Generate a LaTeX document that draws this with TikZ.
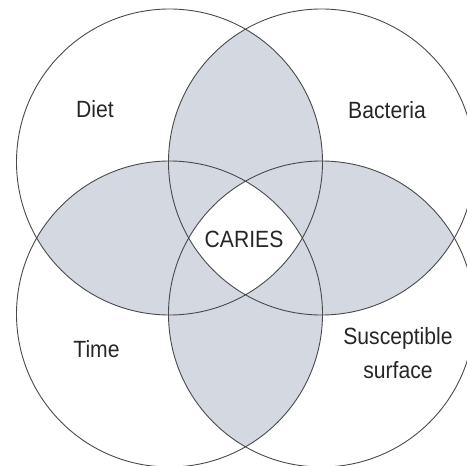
\documentclass[tikz,border=0pt]{standalone}
\usepackage{fontspec}
\usepackage{tikz}
\newfontfamily\labelfont[FakeStretch=0.9]{Liberation Sans}
\definecolor{lensgray}{HTML}{D3D8E1}
\definecolor{rimgray}{HTML}{4A4A4A}

\begin{document}
\begin{tikzpicture}[x=1pt,y=-1pt,
  rim/.style={rimgray,line width=0.9pt},
  factor/.style={font=\labelfont\fontsize{23.5}{34}\selectfont,text=black!85,align=center,inner sep=0pt}]
  \useasboundingbox (0,0) rectangle (467,466);
  % centres of the four factors
  \coordinate (diet) at (169.5,162);
  \coordinate (bact) at (321.5,162);
  \coordinate (time) at (169.5,314);
  \coordinate (surf) at (321.5,314);
  \def\rad{153}
  % shaded overlaps of neighbouring circles
  \begin{scope}
    \clip (diet) circle (\rad);
    \fill[lensgray] (bact) circle (\rad);
    \fill[lensgray] (time) circle (\rad);
  \end{scope}
  \begin{scope}
    \clip (surf) circle (\rad);
    \fill[lensgray] (bact) circle (\rad);
    \fill[lensgray] (time) circle (\rad);
  \end{scope}
  % common part of all four stays white
  \begin{scope}
    \clip (diet) circle (\rad);
    \clip (bact) circle (\rad);
    \clip (time) circle (\rad);
    \fill[white] (surf) circle (\rad);
  \end{scope}
  % circles
  \draw[rim] (diet) circle (\rad);
  \draw[rim] (bact) circle (\rad);
  \draw[rim] (time) circle (\rad);
  \draw[rim] (surf) circle (\rad);
  % labels
  \node[factor,anchor=base] (dietlbl) at (95,117) {Diet};
  \node[factor,anchor=base] (bactlbl) at (387,118) {Bacteria};
  \node[factor,anchor=base] (timelbl) at (96.5,357) {Time};
  \node[factor] (surflbl) at (398,353) {Susceptible\\surface};
  \node[factor,anchor=base] (carieslbl) at (244,247) {CARIES};
\end{tikzpicture}
\end{document}
